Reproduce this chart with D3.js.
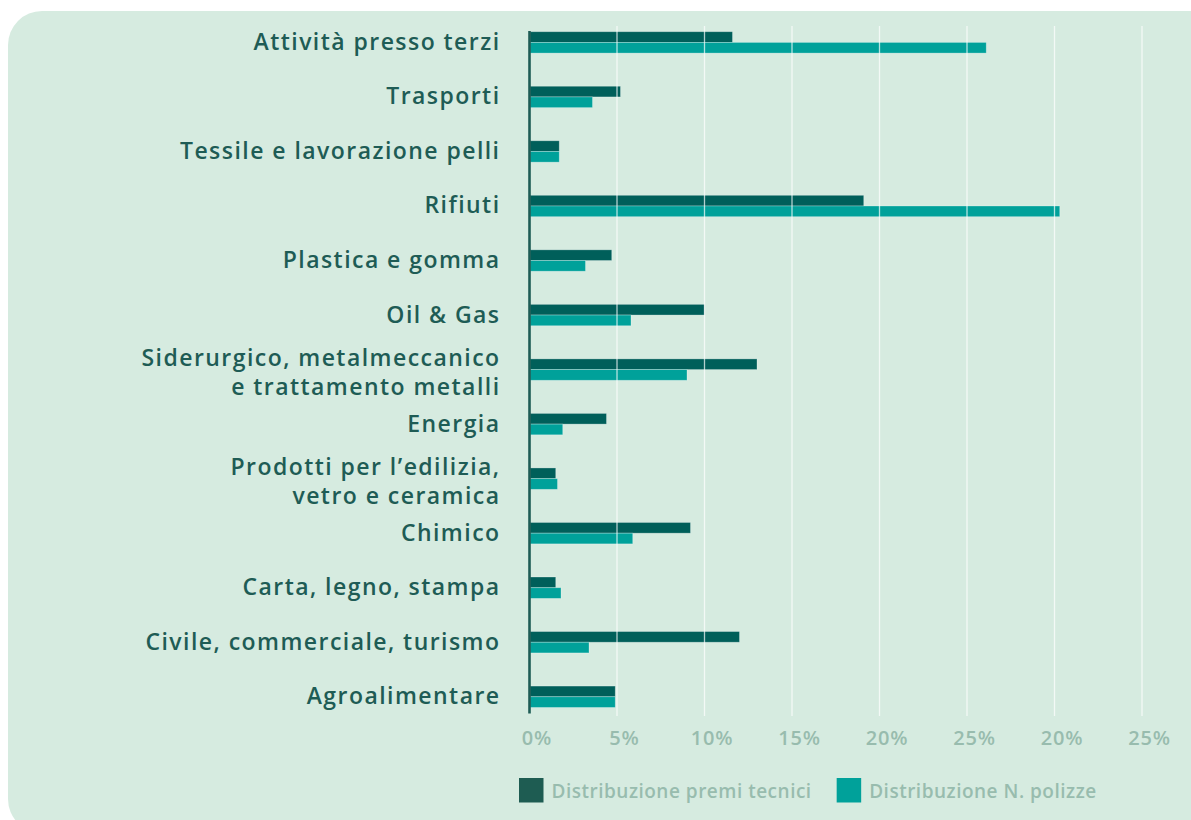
<!DOCTYPE html>
<html>
<head>
<meta charset="utf-8">
<script src="https://cdn.jsdelivr.net/npm/d3@7"></script>
<style>
  html, body { margin: 0; padding: 0; background: #ffffff; }
  svg { display: block; }
  text { font-family: "Open Sans", "Noto Sans", sans-serif; }
</style>
</head>
<body>
<svg id="chart" width="1191" height="820"></svg>
<script>
// Settori di attività: ripartizione premi tecnici e numero di polizze (%)
const categories = [
  "Attività presso terzi",
  "Trasporti",
  "Tessile e lavorazione pelli",
  "Rifiuti",
  "Plastica e gomma",
  "Oil & Gas",
  "Siderurgico, metalmeccanico\ne trattamento metalli",
  "Energia",
  "Prodotti per l’edilizia,\nvetro e ceramica",
  "Chimico",
  "Carta, legno, stampa",
  "Civile, commerciale, turismo",
  "Agroalimentare"
];
const premiTecnici = [11.6, 5.2, 1.7, 19.1, 4.7, 10.0, 13.0, 4.4, 1.5, 9.2, 1.5, 12.0, 4.9];
const numeroPolizze = [26.1, 3.6, 1.7, 30.3, 3.2, 5.8, 9.0, 1.9, 1.6, 5.9, 1.8, 3.4, 4.9];
const tickValues = [0, 5, 10, 15, 20, 25, 30, 35];
const tickLabels = ["0%", "5%", "10%", "15%", "20%", "25%", "20%", "25%"];
const seriesNames = ["Distribuzione premi tecnici", "Distribuzione N. polizze"];

const colors = { premi: "#005f5a", polizze: "#00a19a", legendPremi: "#1e5c52",
                 label: "#1e5c55", tick: "#98bcae", panel: "#d6ebe0" };

const svg = d3.select("#chart");

// rounded background panel
svg.append("rect")
  .attr("x", 8).attr("y", 11)
  .attr("width", 1215).attr("height", 822)
  .attr("rx", 34).attr("ry", 34)
  .attr("fill", colors.panel);

const x = d3.scaleLinear().domain([0, 35]).range([529.5, 1142]);
const y = d3.scaleBand().domain(categories).range([31.7, 31.7 + 13 * 54.53]);
const barH = 10.7;

const rows = categories.map((c, i) => ({ c, premi: premiTecnici[i], polizze: numeroPolizze[i] }));

// bars
const g = svg.append("g");
g.selectAll("rect.premi").data(rows).join("rect")
  .attr("class", "premi")
  .attr("x", x(0) + 0.5)
  .attr("y", d => y(d.c))
  .attr("width", d => x(d.premi) - x(0) - 0.5)
  .attr("height", barH)
  .attr("fill", colors.premi)
  .attr("stroke", "rgba(255,255,255,0.35)").attr("stroke-width", 0.8);

g.selectAll("rect.polizze").data(rows).join("rect")
  .attr("class", "polizze")
  .attr("x", x(0) + 0.5)
  .attr("y", d => y(d.c) + barH)
  .attr("width", d => x(d.polizze) - x(0) - 0.5)
  .attr("height", barH)
  .attr("fill", colors.polizze)
  .attr("stroke", "rgba(255,255,255,0.35)").attr("stroke-width", 0.8);

// vertical gridlines on top of the bars
svg.append("g").selectAll("line").data(tickValues.slice(1)).join("line")
  .attr("x1", d => x(d)).attr("x2", d => x(d))
  .attr("y1", 26).attr("y2", 716)
  .attr("stroke", "#ffffff").attr("stroke-opacity", 0.7).attr("stroke-width", 1.3);

// category axis line
svg.append("line")
  .attr("x1", x(0)).attr("x2", x(0))
  .attr("y1", 31).attr("y2", 713.5)
  .attr("stroke", colors.label).attr("stroke-width", 2.6);

// x axis labels
const xAxis = d3.axisBottom(x)
  .tickValues(tickValues)
  .tickFormat((d, i) => tickLabels[i])
  .tickSize(0).tickPadding(0);
const xg = svg.append("g").attr("transform", "translate(7,0)").call(xAxis);
xg.select(".domain").remove();
xg.selectAll("text")
  .attr("y", 744.5).attr("dy", null)
  .attr("fill", colors.tick)
  .style("font-size", "20px").style("font-weight", 600)
  .style("letter-spacing", "0.8px")
  .style("font-family", "'Open Sans', 'Noto Sans', sans-serif");

// category labels (right aligned, possibly two lines)
const labels = svg.append("g");
rows.forEach(d => {
  const lines = d.c.split("\n");
  const center = y(d.c) + barH;
  const t = labels.append("text")
    .attr("text-anchor", "end")
    .attr("fill", colors.label)
    .style("font-size", "23px").style("font-weight", 600)
    .style("letter-spacing", "1.45px");
  if (lines.length === 1) {
    t.append("tspan").attr("x", 500.5).attr("y", center + 7.5).text(lines[0]);
  } else {
    lines.forEach((ln, k) => {
      t.append("tspan").attr("x", 500.5).attr("y", center - 4 + k * 29).text(ln);
    });
  }
});

// legend
const legend = svg.append("g");
const legendColors = [colors.legendPremi, colors.polizze];
let lx = 519;
seriesNames.forEach((name, i) => {
  legend.append("rect")
    .attr("x", lx).attr("y", 778)
    .attr("width", 24.5).attr("height", 24.5)
    .attr("fill", legendColors[i]);
  const t = legend.append("text")
    .attr("x", lx + 32.5).attr("y", 798.3)
    .attr("fill", colors.tick)
    .style("font-size", "19px").style("font-weight", 600)
    .style("letter-spacing", "0.5px")
    .text(name);
  lx = lx + 32.5 + t.node().getComputedTextLength() + 25;
});
</script>
</body>
</html>
